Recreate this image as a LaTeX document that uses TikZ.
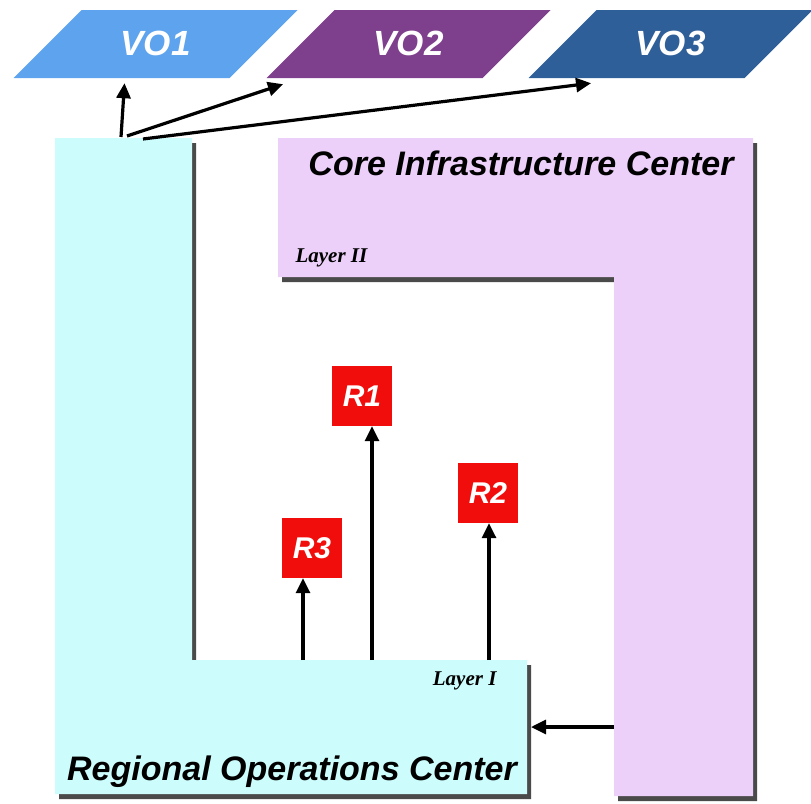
\documentclass[tikz,border=0pt]{standalone}
\usepackage{fontspec}
\setmainfont{Liberation Serif}
\setsansfont{Liberation Sans}
\usetikzlibrary{arrows.meta, shapes.geometric, positioning}
\definecolor{roccyan}{HTML}{CCFCFC}
\definecolor{cicpink}{HTML}{EDD0FA}
\definecolor{voblue}{HTML}{5EA3EE}
\definecolor{vopurple}{HTML}{7E3F8C}
\definecolor{vonavy}{HTML}{2F5F98}
\definecolor{resred}{HTML}{F20D0D}
\definecolor{shadowgray}{HTML}{4A4A4A}
\tikzset{
  vobox/.style={trapezium, trapezium left angle=45, trapezium right angle=135,
    trapezium stretches body, minimum width=284pt, text height=45.5pt, text depth=22.5pt,
    inner sep=0pt, text=white, font=\fontsize{35}{40}\selectfont\sffamily\bfseries\itshape}
}
\tikzset{
  resbox/.style={fill=resred, minimum size=60pt, inner sep=0pt, text=white,
    font=\fontsize{30}{34}\selectfont\sffamily\bfseries\itshape}
}
\tikzset{
  bigtext/.style={font=\fontsize{34}{40}\selectfont\sffamily\bfseries\itshape},
  layertext/.style={font=\fontsize{21}{25}\selectfont\bfseries\itshape},
  arr/.style={->, line width=3.2pt}
}

\begin{document}
\begin{tikzpicture}[x=1pt, y=-1pt, >={Triangle[length=15pt,width=14pt]}]
      \useasboundingbox (0,0) rectangle (811,803);
      % core infrastructure center (layer II)
      \fill[shadowgray, shift={(4,5)}] (278,138) -- (753,138) -- (753,796) -- (614,796) -- (614,277) -- (278,277) -- cycle;
      \fill[cicpink] (278,138) -- (753,138) -- (753,796) -- (614,796) -- (614,277) -- (278,277) -- cycle;
      % regional operations center (layer I)
      \fill[shadowgray, shift={(4,5)}] (55,138) -- (192,138) -- (192,660) -- (527,660) -- (527,794) -- (55,794) -- cycle;
      \fill[roccyan] (55,138) -- (192,138) -- (192,660) -- (527,660) -- (527,794) -- (55,794) -- cycle;
      \node[bigtext, anchor=base] (cic) at (521,175) {Core Infrastructure Center};
      \node[layertext, anchor=base west] (l2) at (292,262) {Layer II};
      \node[layertext, anchor=base east] (l1) at (500,685) {Layer I};
      \node[bigtext, anchor=base] (roc) at (292,780) {Regional Operations Center};
      % virtual organisations
      \node[vobox, fill=voblue] (vo1) at (155.5,44) {VO1};
      \node[vobox, fill=vopurple] (vo2) at (408.5,44) {VO2};
      \node[vobox, fill=vonavy] (vo3) at (670.5,44) {VO3};
      \coordinate (up1) at (121,137);
      \coordinate (up2) at (127,136);
      \coordinate (up3) at (143,139);
      \draw[arr] (up1) -- ([xshift=-31pt,yshift=-5pt]vo1.south);
      \draw[arr] (up2) -- ([xshift=17pt,yshift=-6pt]vo2.bottom left corner);
      \draw[arr] (up3) -- ([xshift=63pt,yshift=-5pt]vo3.bottom left corner);
      % resources
      \node[resbox] (r1) at (362,396) {R1};
      \node[resbox] (r2) at (488,493) {R2};
      \node[resbox] (r3) at (312,548) {R3};
      \coordinate (s1) at (372,660);
      \coordinate (s2) at (489,660);
      \coordinate (s3) at (303,660);
      \draw[arr] (s1) -- (s1 |- r1.south);
      \draw[arr] (s2) -- (s2 |- r2.south);
      \draw[arr] (s3) -- (s3 |- r3.south);
      \coordinate (c1) at (614,727);
      \coordinate (c2) at (531,727);
      \draw[arr] (c1) -- (c2);
    \end{tikzpicture}
\end{document}
